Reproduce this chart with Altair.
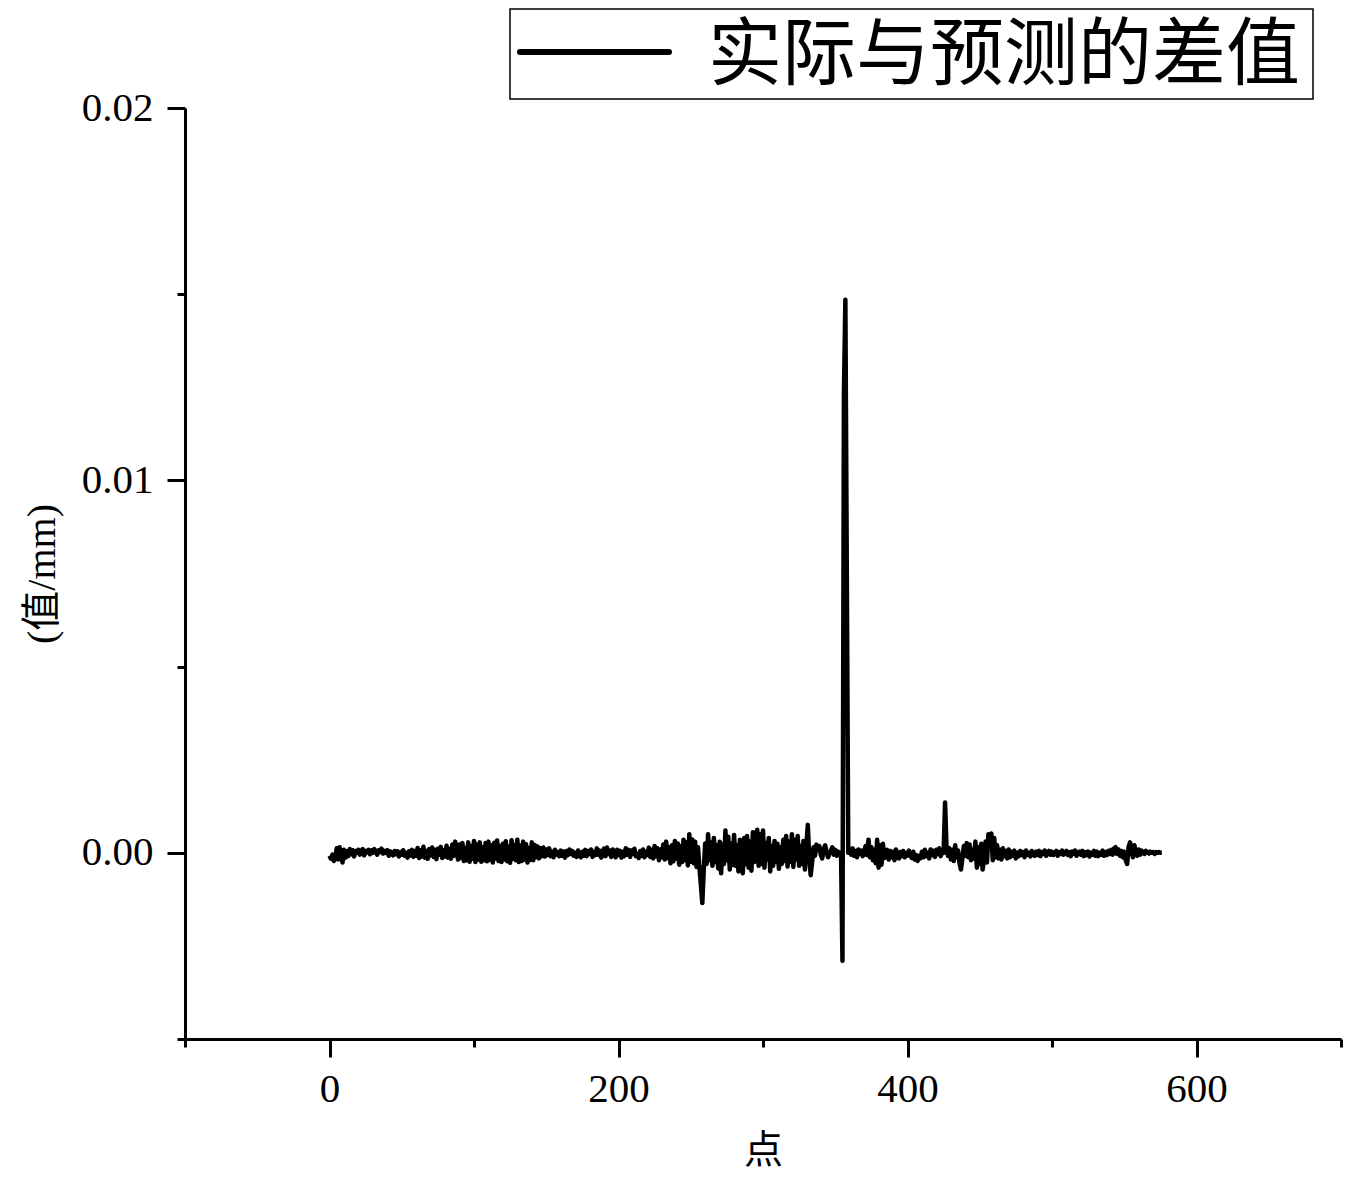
import altair as alt
import pandas as pd

# 实际与预测的差值 (mm), point index 0..576
seg_000_099 = [
    -0.00008, -0.00016, -0.00005, -0.00022, -0.00012, 0.00012, -0.00018, 0.00015, -0.0001, -0.00026,
    0.00008, -0.00013, 0.00004, -0.00009, 0.0001, -0.00004, 0.00007, -0.0001, 0.00005, 0.0,
    0.00008, -0.00005, 0.00004, 0.0001, -0.00007, 0.00005, 0.00002, 0.00008, -0.00004, 0.00007,
    0.0, 0.0001, 0.00003, -0.00005, 0.00007, 0.00002, 0.00011, -0.00002, 0.00005, 0.0,
    0.00007, -0.00008, 0.00004, 0.0, -0.00007, 0.00005, -0.00004, 0.00004, -0.0001, 0.00002,
    -0.00005, 0.00007, -0.00008, 0.0, -0.00013, 0.00004, -0.00007, 0.00008, -0.00011, 0.00005,
    -0.00008, 0.00013, -0.00014, 0.00007, -0.0001, 0.00016, -0.00013, 0.00005, -0.00016, 0.0001,
    -0.00007, 0.00014, -0.00011, 0.00008, -0.00017, 0.00011, -0.00005, 0.00016, -0.00014, 0.00007,
    -0.0001, 0.00019, -0.00013, 0.0001, -0.00016, 0.00022, -0.00008, 0.0003, 0.00005, -0.00018,
    0.00022, -0.00014, 0.00026, -0.00022, 0.00013, -0.0002, 0.00028, -0.00024, 0.00018, -0.00016,
]
seg_100_199 = [
    0.00032, -0.00025, 0.00022, -0.00018, 0.00028, -0.00024, 0.00015, -0.0002, 0.00026, -0.00023,
    0.0003, -0.00019, 0.0002, -0.00026, 0.00027, -0.00015, 0.00033, -0.00022, 0.00018, -0.00025,
    0.00024, -0.00018, 0.00031, -0.00023, 0.00016, -0.00027, 0.00034, -0.00016, 0.00021, -0.0002,
    0.00035, -0.00025, 0.00019, -0.00022, 0.0003, -0.00018, 0.00023, -0.00026, 0.00013, -0.00019,
    0.00028, -0.0002, 0.00021, -0.00012, 0.00017, -0.00015, 0.00012, -0.00009, 0.00014, -0.0001,
    0.00009, -0.00006, 0.00012, -0.00009, 0.00003, -0.00012, 0.00008, -0.00005, 0.00002, -0.00009,
    0.00006, -0.00008, 0.00003, -0.00013, 0.00005, -0.00006, 0.00009, -0.00003, 0.00005, -0.00008,
    0.0, -0.00011, 0.00006, -0.00005, -0.00012, 0.00003, -0.00008, 0.00008, -0.00009, 0.00005,
    -0.00003, 0.00009, -0.00011, 0.00002, -0.00006, 0.00012, -0.00005, 0.00006, -0.00013, 0.00003,
    0.00011, -0.00009, 0.00014, -0.00003, 0.00006, -0.00011, 0.00009, -0.00005, -0.00012, 0.00008,
]
seg_200_299 = [
    -0.00006, 0.00005, -0.00013, 0.00003, -0.00009, 0.00012, -0.00005, 0.00008, -0.00011, 0.00006,
    -0.00003, 0.00011, -0.00009, -0.00003, -0.00014, 0.00005, -0.00008, 0.00009, -0.00012, 0.00003,
    -0.00006, 0.00014, -0.00011, 0.00008, -0.00015, 0.00018, -0.00009, 0.00012, -0.0002, 0.00009,
    -0.00012, 0.00022, -0.00018, 0.0003, -0.00014, 0.00015, -0.00028, 0.0002, -0.00023, 0.00032,
    -0.00015, 0.00025, -0.00032, 0.00018, -0.00025, 0.00035, -0.0002, 0.00028, -0.00034, 0.0005,
    -0.00024, 0.00036, -0.00028, 0.0003, -0.00038, 0.00015, -0.0004, -0.00085, -0.00135, -0.00045,
    0.00025, -0.0003, 0.0005, -0.0002, 0.00028, -0.00035, 0.0004, -0.00025, 0.0002, -0.00042,
    0.0003, -0.00055, 0.00023, -0.0003, 0.0006, -0.0002, 0.00043, -0.00045, 0.00025, -0.00033,
    0.00048, -0.00035, 0.0002, -0.0005, 0.00035, -0.00025, -0.00055, 0.0004, -0.0003, 0.00045,
    -0.0004, 0.0003, -0.00048, 0.00055, -0.00025, 0.0004, 0.00062, -0.00035, 0.0005, -0.0003,
]
seg_300_399 = [
    0.0006, -0.0004, 0.00026, -0.00018, 0.0004, -0.0005, 0.00018, -0.00035, 0.00032, -0.00024,
    0.00024, -0.00043, 0.00015, -0.0003, 0.00035, -0.00022, 0.00045, -0.00037, 0.0003, -0.00024,
    0.0005, -0.00038, 0.00035, -0.00018, 0.00045, -0.00035, 0.00018, -0.0003, 0.00032, -0.00045,
    0.00018, 0.00075, -0.00012, -0.0006, -0.00025, 0.00015, -0.00008, 0.00022, 0.00008, 0.00018,
    -0.00005, -0.00015, 0.00009, 0.0002, 0.00003, -0.00012, -0.00003, 0.00006, 0.00015, -0.00005,
    0.00008, -0.00008, 0.00003, 0.0, 0.0, -0.0029, 0.0123, 0.01485, 0.0075, 0.0,
    0.00008, -0.00005, 0.00012, -0.00008, 0.00005, -0.00012, 0.00009, -0.00003, 0.00006, -0.00009,
    0.00003, 0.00018, -0.00006, 0.00035, -0.00012, 0.00015, -0.0002, 0.00008, -0.00028, 0.00035,
    -0.0004, 0.0002, -0.00032, 0.00024, -0.00014, -0.00008, 0.00008, -0.00018, 0.00005, -0.00012,
    0.00003, -0.0002, 0.00009, -0.00006, -0.00015, 0.00002, -0.00009, 0.00005, -0.00012, 0.0,
]
seg_400_499 = [
    -0.00008, 0.00006, -0.00005, -0.00014, 0.00003, -0.00018, -0.00006, -0.00022, -0.00008, -0.00015,
    0.00003, -0.00012, 0.00008, -0.00009, 0.0, -0.00015, 0.00009, -0.00006, 0.00005, -0.00011,
    0.00008, -0.00003, 0.00012, -0.00009, 0.00006, 0.0, 0.00135, 0.00015, -0.00008, 0.00012,
    -0.00018, 0.00008, -0.00022, 0.0002, -0.00012, 0.00006, -0.00028, -0.00045, -0.00015, 0.00018,
    -0.00008, 0.00026, -0.00012, 0.00022, -0.0002, 0.00008, -0.00015, 0.0003, -0.0004, 0.00015,
    -0.0003, 0.00024, -0.00045, -0.00015, 0.0003, -0.00026, 0.0005, 0.0002, 0.00052, -0.0002,
    0.0004, -0.00012, 0.0002, -0.00015, 0.00008, -0.00018, 0.00012, -0.00009, 0.00005, -0.00015,
    0.00009, -0.00012, 0.00003, -0.00008, 0.00006, -0.00015, 0.0, -0.00009, 0.00005, -0.00006,
    0.00002, -0.00012, 0.00006, -0.00005, 0.0, -0.0001, 0.00005, -0.00003, -0.00008, 0.00003,
    -0.00006, 0.00005, -0.00009, 0.00002, -0.00003, 0.00006, -0.00008, 0.0, 0.00005, -0.00005,
]
seg_500_576 = [
    0.00003, -0.00006, 0.0, 0.00005, -0.00008, 0.00002, -0.00003, 0.00006, -0.00005, 0.0,
    0.00005, -0.00006, 0.00002, -0.00009, 0.00003, -0.00002, 0.00006, -0.00008, 0.0, 0.00003,
    -0.00005, 0.00005, -0.00009, 0.00002, -0.00006, 0.00003, -0.0001, 0.0, -0.00005, 0.00005,
    -0.00008, 0.00003, -0.00009, 0.0, -0.00005, 0.00006, -0.00008, 0.00002, -0.00006, 0.00005,
    -0.00003, 0.00008, -0.00005, 0.00012, 0.00015, -0.00003, 0.00009, -0.00008, 0.00005, -0.00012,
    0.00003, -0.0002, -0.0003, 0.00015, 0.00028, 0.00008, -0.00012, 0.0002, 0.00003, -0.00008,
    0.00009, -0.00005, 0.00006, 0.0, -0.00003, 0.00005, 0.00002, -0.00002, 0.00003, 0.0,
    0.00002, -0.00003, 0.00002, 0.0, 0.00002, 0.0, 0.0,
]

legend_label = "实际与预测的差值"
x_title = "点"
y_title = "(值/mm)"
x_ticks = [-100, 0, 100, 200, 300, 400, 500, 600, 700]
y_ticks = [-0.005, 0.0, 0.005, 0.01, 0.015, 0.02]

diff = seg_000_099 + seg_100_199 + seg_200_299 + seg_300_399 + seg_400_499 + seg_500_576
df = pd.DataFrame({"点": list(range(len(diff))), "差值": diff})

FONT = "Liberation Serif, Noto Sans CJK SC"
W, H = 1156, 931

x_major = "datum.value % 200 == 0"
y_major = "abs(datum.value * 100 - round(datum.value * 100)) < 0.000001"

line = alt.Chart(df).mark_line(color="black", strokeWidth=4.5, strokeJoin="round").encode(
    x=alt.X("点:Q",
            scale=alt.Scale(domain=[-100, 700], nice=False, zero=False),
            axis=alt.Axis(values=x_ticks, grid=False, domainColor="black", domainWidth=3,
                          tickColor="black", tickWidth=3,
                          tickSize={"condition": {"test": x_major, "value": 18}, "value": 8},
                          labelExpr="datum.value % 200 == 0 ? datum.label : ''",
                          labelFont=FONT, labelFontSize=41, labelColor="black",
                          labelPadding=12, labelFlush=False, labelOverlap=False,
                          title=x_title, titleFont=FONT, titleFontSize=39,
                          titleFontWeight="normal", titleColor="black",
                          titleX=W / 2, titleY=111, titleBaseline="middle",
                          titleAlign="center")),
    y=alt.Y("差值:Q",
            scale=alt.Scale(domain=[-0.005, 0.02], nice=False, zero=False),
            axis=alt.Axis(values=y_ticks, grid=False, domainColor="black", domainWidth=3,
                          tickColor="black", tickWidth=3,
                          tickSize={"condition": {"test": y_major, "value": 18}, "value": 8},
                          labelExpr=y_major + " ? format(datum.value, '.2f') : ''",
                          labelFont=FONT, labelFontSize=41, labelColor="black",
                          labelPadding=14, labelFlush=False, labelOverlap=False,
                          title=y_title, titleFont=FONT, titleFontSize=40,
                          titleFontWeight="normal", titleColor="black",
                          titleX=-143, titleY=H / 2, titleAngle=270,
                          titleBaseline="middle", titleAlign="center")),
)

one = pd.DataFrame({"k": [0]})
legend_box = alt.Chart(one).mark_rect(fill="white", stroke="black", strokeWidth=1.5).encode(
    x=alt.value(325), x2=alt.value(1128), y=alt.value(-99), y2=alt.value(-9))
legend_line = alt.Chart(one).mark_rule(color="black", strokeWidth=6, strokeCap="round").encode(
    x=alt.value(335), x2=alt.value(484), y=alt.value(-56))
legend_text = alt.Chart(one).mark_text(
    text=legend_label, font="Noto Sans CJK SC", fontSize=74, align="left",
    baseline="middle", color="black").encode(x=alt.value(523), y=alt.value(-51))

chart = alt.layer(line, legend_box, legend_line, legend_text).properties(
    width=W, height=H,
    autosize=alt.AutoSizeParams(type="none"),
    padding={"left": 177, "top": 100, "right": 15, "bottom": 132},
).configure(background="white").configure_view(stroke=None)

chart.save("out.html", embed_options={"renderer": "svg", "actions": False})
